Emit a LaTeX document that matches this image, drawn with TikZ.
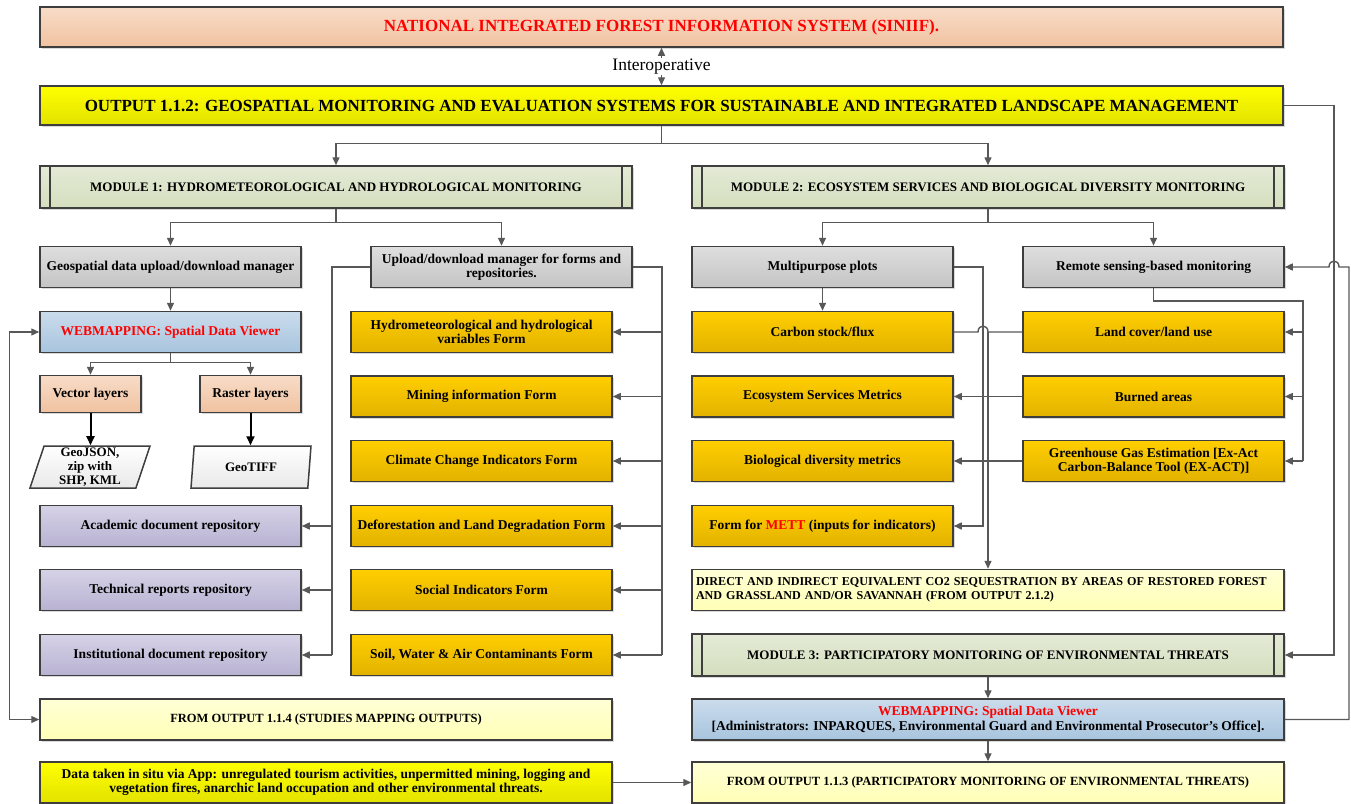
\documentclass[tikz,border=0pt]{standalone}
\usepackage{fontspec}
\setmainfont{Liberation Serif}
\usetikzlibrary{positioning, arrows.meta, shapes.geometric, shadows, calc}
\definecolor{edgegray}{RGB}{62,62,62}
\definecolor{wiregray}{RGB}{88,88,88}
\definecolor{peachtop}{RGB}{248,220,200}
\definecolor{peachbot}{RGB}{240,194,160}
\definecolor{yeltop}{RGB}{255,255,0}
\definecolor{yelbot}{RGB}{226,226,0}
\definecolor{modtop}{RGB}{228,234,214}
\definecolor{modbot}{RGB}{212,222,190}
\definecolor{graytop}{RGB}{222,222,222}
\definecolor{graybot}{RGB}{196,196,196}
\definecolor{bluetop}{RGB}{202,220,236}
\definecolor{bluebot}{RGB}{168,196,222}
\definecolor{lavtop}{RGB}{214,210,230}
\definecolor{lavbot}{RGB}{184,178,210}
\definecolor{goldtop}{RGB}{255,206,0}
\definecolor{goldbot}{RGB}{226,178,0}
\definecolor{paletop}{RGB}{255,255,214}
\definecolor{palebot}{RGB}{255,255,182}
\tikzset{
    box/.style={draw=edgegray, line width=1.5pt, minimum width=261pt, minimum height=41pt,
      align=center, font=\fontsize{13.5}{14.5}\selectfont\bfseries, inner sep=2pt,
      drop shadow={shadow xshift=1.5pt, shadow yshift=-1.5pt, opacity=0.3}},
    peachbox/.style={box, top color=peachtop, bottom color=peachbot},
    yelbox/.style={box, top color=yeltop, bottom color=yelbot},
    graybox/.style={box, top color=graytop, bottom color=graybot},
    bluebox/.style={box, top color=bluetop, bottom color=bluebot},
    lavbox/.style={box, top color=lavtop, bottom color=lavbot},
    goldbox/.style={box, top color=goldtop, bottom color=goldbot},
    palebox/.style={box, top color=paletop, bottom color=palebot, font=\fontsize{12.5}{14}\selectfont\bfseries},
    titlefont/.style={font=\fontsize{17}{19}\selectfont\bfseries},
    modbox/.style={box, top color=modtop, bottom color=modbot, minimum width=592pt, minimum height=42pt,
      font=\fontsize{13}{14}\selectfont\bfseries,
      path picture={\draw[edgegray, line width=1.3pt]
        ([xshift=10pt]path picture bounding box.north west) -- ([xshift=10pt]path picture bounding box.south west)
        ([xshift=-10pt]path picture bounding box.north east) -- ([xshift=-10pt]path picture bounding box.south east);}},
    filebox/.style={trapezium, trapezium left angle=70, trapezium right angle=110,
      trapezium stretches body=true, draw=edgegray,
      line width=1.5pt, top color=white, bottom color=gray!18, minimum width=120pt, minimum height=42pt,
      inner sep=0pt, align=center, font=\fontsize{13}{14}\selectfont\bfseries},
    wire/.style={draw=wiregray, line width=1.4pt},
    arr/.style={wire, -{Triangle[length=8pt, width=7pt]}},
    arrboth/.style={wire, {Triangle[length=8pt, width=7pt]}-{Triangle[length=8pt, width=7pt]}},
    thickarr/.style={draw=black, line width=2pt, -{Triangle[length=9pt, width=8pt]}}
}
\begin{document}
\begin{tikzpicture}[x=1pt, y=-1pt]
    \useasboundingbox (0,0) rectangle (1351,803);
    % top of the system
    \node[peachbox, titlefont, minimum width=1243pt, minimum height=40pt, text=red] (siniif) at (661.5,27)
      {NATIONAL INTEGRATED FOREST INFORMATION SYSTEM (SINIIF).};
    \node[yelbox, titlefont, minimum width=1243pt, minimum height=39pt] (out) at (661.5,105.5)
      {OUTPUT 1.1.2: GEOSPATIAL MONITORING AND EVALUATION SYSTEMS FOR SUSTAINABLE AND INTEGRATED LANDSCAPE MANAGEMENT};
    \node[modbox] (mod1) at (336,187) {MODULE 1: HYDROMETEOROLOGICAL AND HYDROLOGICAL MONITORING};
    \node[modbox] (mod2) at (988,187) {MODULE 2: ECOSYSTEM SERVICES AND BIOLOGICAL DIVERSITY MONITORING};
    % module 1
    \node[graybox] (geomgr) at (170.5,267) {Geospatial data upload/download manager};
    \node[graybox] (updmgr) at (501.5,267) {Upload/download manager for forms and\\repositories.};
    \node[bluebox, text=red] (webmap) at (170.5,332) {WEBMAPPING: Spatial Data Viewer};
    \node[peachbox, minimum width=101pt, minimum height=37pt] (vector) at (90.5,394) {Vector layers};
    \node[peachbox, minimum width=101pt, minimum height=37pt] (raster) at (250.5,394) {Raster layers};
    \node[filebox] (geojson) at (90,467) {GeoJSON,\\zip with\\SHP, KML};
    \node[filebox] (geotiff) at (251,467) {GeoTIFF};
    \node[lavbox] (acad) at (170.5,526) {Academic document repository};
    \node[lavbox] (tech) at (170.5,590) {Technical reports repository};
    \node[lavbox] (inst) at (170.5,655) {Institutional document repository};
    \node[goldbox] (fHydro) at (481.5,332) {Hydrometeorological and hydrological\\variables Form};
    \node[goldbox] (fMining) at (481.5,396.5) {Mining information Form};
    \node[goldbox] (fClimate) at (481.5,461) {Climate Change Indicators Form};
    \node[goldbox] (fDefor) at (481.5,526) {Deforestation and Land Degradation Form};
    \node[goldbox] (fSocial) at (481.5,590) {Social Indicators Form};
    \node[goldbox] (fSoil) at (481.5,655) {Soil, Water \& Air Contaminants Form};
    \node[palebox, minimum width=572pt] (from114) at (326,719.5) {FROM OUTPUT 1.1.4 (STUDIES MAPPING OUTPUTS)};
    \node[yelbox, minimum width=572pt] (insitu) at (326,782.5)
      {Data taken in situ via App: unregulated tourism activities, unpermitted mining, logging and\\vegetation fires, anarchic land occupation and other environmental threats.};
    % module 2
    \node[graybox] (multi) at (822.5,267) {Multipurpose plots};
    \node[graybox] (remote) at (1153.5,267) {Remote sensing-based monitoring};
    \node[goldbox] (carbon) at (822.5,332) {Carbon stock/flux};
    \node[goldbox] (ecoserv) at (822.5,396.5) {Ecosystem Services Metrics};
    \node[goldbox] (biodiv) at (822.5,461) {Biological diversity metrics};
    \node[goldbox] (mett) at (822.5,526) {Form for \textcolor{red}{METT} (inputs for indicators)};
    \node[goldbox] (landcov) at (1153.5,332) {Land cover/land use};
    \node[goldbox] (burned) at (1153.5,396.5) {Burned areas};
    \node[goldbox] (ghg) at (1153.5,461) {Greenhouse Gas Estimation [Ex-Act\\Carbon-Balance Tool (EX-ACT)]};
    \node[palebox, minimum width=592pt, text width=584pt, align=left,
      font=\fontsize{12.1}{14}\selectfont\bfseries] (seq) at (988,590)
      {DIRECT AND INDIRECT EQUIVALENT CO2 SEQUESTRATION BY AREAS OF RESTORED FOREST\\AND GRASSLAND AND/OR SAVANNAH (FROM OUTPUT 2.1.2)};
    % module 3
    \node[modbox] (mod3) at (988,655) {MODULE 3: PARTICIPATORY MONITORING OF ENVIRONMENTAL THREATS};
    \node[bluebox, minimum width=592pt] (webmap2) at (988,719.5)
      {\textcolor{red}{WEBMAPPING: Spatial Data Viewer}\\{[}Administrators: INPARQUES, Environmental Guard and Environmental Prosecutor's Office{]}.};
    \node[palebox, minimum width=592pt] (from113) at (988,782.5)
      {FROM OUTPUT 1.1.3 (PARTICIPATORY MONITORING OF ENVIRONMENTAL THREATS)};
    % bus points
    \coordinate (repbus) at (332,267);
    \coordinate (formbus) at (662,267);
    \coordinate (plotbus) at (983,267);
    \coordinate (seqbus) at (988,332);
    \coordinate (sensbus) at (1303,301);
    \coordinate (outbus) at (1334,105.5);
    \coordinate (webbus) at (1349,719.5);
    % connectors
    \draw[arrboth] (siniif) -- (out)
      node[midway, fill=white, inner sep=1pt, font=\fontsize{17.5}{19}\selectfont] {Interoperative};
    \draw[wire] (out.south) -- ++(0,18) coordinate (split0);
    \draw[arr] (split0) -| (mod1.north);
    \draw[arr] (split0) -| (mod2.north);
    \draw[wire] (mod1.south) -- ++(0,14) coordinate (split1);
    \draw[arr] (split1) -| (geomgr.north);
    \draw[arr] (split1) -| (updmgr.north);
    \draw[wire] (mod2.south) -- ++(0,14) coordinate (split2);
    \draw[arr] (split2) -| (multi.north);
    \draw[arr] (split2) -| (remote.north);
    \draw[arr] (geomgr) -- (webmap);
    \draw[wire] (webmap.south) -- ++(0,9) coordinate (split3);
    \draw[arr] (split3) -| (vector.north);
    \draw[arr] (split3) -| (raster.north);
    \draw[thickarr] (vector.south) -- (vector.south |- geojson.north);
    \draw[thickarr] (raster.south) -- (raster.south |- geotiff.north);
    \draw[wire] (updmgr.west) -| (repbus |- inst.east);
    \foreach \n in {acad, tech, inst}
      \draw[arr] (repbus |- \n.east) -- (\n.east);
    \draw[wire] (updmgr.east) -| (formbus |- fSoil.east);
    \foreach \n in {fHydro, fMining, fClimate, fDefor, fSocial, fSoil}
      \draw[arr] (formbus |- \n.east) -- (\n.east);
    \draw[arrboth] (webmap.west) -- ++(-30,0) |- (from114.west);
    \draw[arr] (insitu.east) -- (from113.west);
    % module 2 links
    \draw[arr] (multi) -- (carbon);
    \draw[arr] (multi.east) -| (plotbus |- mett.east) -- (mett.east);
    \draw[wire] (carbon.east) -- ($(plotbus |- carbon.east)+(-5,0)$)
      .. controls +(0,-8) and +(0,-8) .. ($(plotbus |- carbon.east)+(5,0)$) -- (landcov.west);
    \draw[arr] (seqbus) -- (seqbus |- seq.north);
    \draw[arr] (burned) -- (ecoserv);
    \draw[arr] (ghg) -- (biodiv);
    \draw[wire] (remote.south) |- (sensbus) -- (sensbus |- ghg.east);
    \foreach \n in {landcov, burned, ghg}
      \draw[arr] (sensbus |- \n.east) -- (\n.east);
    % module 3 links
    \draw[arr] (mod3) -- (webmap2);
    \draw[arr] (webmap2) -- (from113);
    \draw[arr] (out.east) -- (outbus) |- (mod3.east);
    \draw[arr] (webmap2.east) -- (webbus) -- (webbus |- remote.east)
      -- ($(outbus |- remote.east)+(5,0)$) .. controls +(0,-8) and +(0,-8) .. ($(outbus |- remote.east)+(-5,0)$)
      -- (remote.east);
\end{tikzpicture}
\end{document}
